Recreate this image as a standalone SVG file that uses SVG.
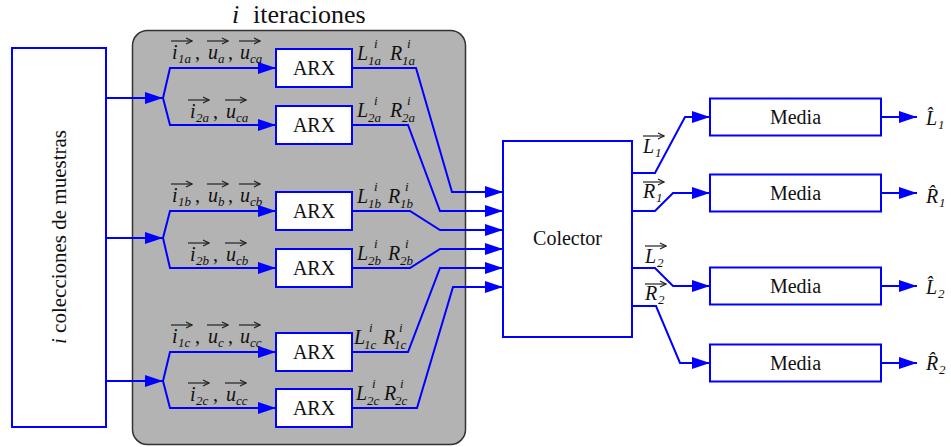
<svg xmlns="http://www.w3.org/2000/svg" width="951" height="447" viewBox="0 0 951 447">
  <style>
    .blk { fill: #fff; stroke: #0000ff; stroke-width: 2; }
    .wire { fill: none; stroke: #0000ff; stroke-width: 2; marker-end: url(#head); }
    .vec { stroke: #222; stroke-width: 1.2; marker-end: url(#vhead); }
    .t { font-family: "Liberation Serif", "Times New Roman", serif; font-size: 20px; fill: #111; }
    .c { text-anchor: middle; }
    .m { font-family: "Liberation Serif", "Times New Roman", serif; font-style: italic; font-size: 20px; fill: #111; }
    .s { font-family: "Liberation Serif", "Times New Roman", serif; font-style: italic; font-size: 13px; fill: #111; }
  </style>
  <defs>
    <marker id="head" markerUnits="userSpaceOnUse" markerWidth="18" markerHeight="12" refX="18" refY="6" orient="auto">
      <path d="M0,0 L18,6 L0,12 Z" fill="#0000ff"/>
    </marker>
    <marker id="vhead" markerUnits="userSpaceOnUse" markerWidth="8" markerHeight="8" refX="7" refY="4" orient="auto">
      <path d="M1,1 L7,4 L1,7" fill="none" stroke="#222" stroke-width="1.2"/>
    </marker>
  </defs>

  <!-- iteration frame -->
  <g id="iteraciones">
    <rect x="132.5" y="30.5" width="333" height="414" rx="15" fill="#b3b3b3" stroke="#333" stroke-width="1.5"/>
    <text class="m" x="232" y="23" style="font-size:26px">i</text>
    <text class="t" x="253" y="23" style="font-size:26px">iteraciones</text>
  </g>

  <!-- sample source -->
  <g id="muestras">
    <rect class="blk" x="12" y="48" width="94" height="379"/>
    <text class="t c" transform="translate(66,237) rotate(-90)" style="font-size:21px"><tspan font-style="italic">i</tspan> colecciones de muestras</text>
  </g>

  <!-- ARX blocks -->
  <g id="arx1a"><rect class="blk" x="276" y="49" width="76" height="38"/><text class="t c" x="314" y="75">ARX</text></g>
  <g id="arx2a"><rect class="blk" x="276" y="106" width="76" height="38"/><text class="t c" x="314" y="132">ARX</text></g>
  <g id="arx1b"><rect class="blk" x="276" y="192" width="76" height="38"/><text class="t c" x="314" y="218">ARX</text></g>
  <g id="arx2b"><rect class="blk" x="276" y="249" width="76" height="38"/><text class="t c" x="314" y="275">ARX</text></g>
  <g id="arx1c"><rect class="blk" x="276" y="333" width="76" height="38"/><text class="t c" x="314" y="359">ARX</text></g>
  <g id="arx2c"><rect class="blk" x="276" y="389" width="76" height="38"/><text class="t c" x="314" y="415">ARX</text></g>

  <!-- collector -->
  <g id="colector">
    <rect class="blk" x="503" y="141" width="129" height="196"/>
    <text class="t c" x="567.5" y="245">Colector</text>
  </g>

  <!-- averaging blocks -->
  <g id="media1"><rect class="blk" x="710" y="98.5" width="171" height="37"/><text class="t c" x="795.5" y="124">Media</text></g>
  <g id="media2"><rect class="blk" x="710" y="174.5" width="171" height="37"/><text class="t c" x="795.5" y="200">Media</text></g>
  <g id="media3"><rect class="blk" x="710" y="267.5" width="171" height="37"/><text class="t c" x="795.5" y="293">Media</text></g>
  <g id="media4"><rect class="blk" x="710" y="344.5" width="171" height="37"/><text class="t c" x="795.5" y="370">Media</text></g>

  <!-- connectors -->
  <g id="conectores">
    <path class="wire" d="M106,98 L163,98"/>
    <path class="wire" d="M106,238 L163,238"/>
    <path class="wire" d="M106,381 L163,381"/>

    <path class="wire" d="M163,98 L170,68 L276,68"/>
    <path class="wire" d="M163,98 L170,125 L276,125"/>
    <path class="wire" d="M163,238 L170,211 L276,211"/>
    <path class="wire" d="M163,238 L170,268 L276,268"/>
    <path class="wire" d="M163,381 L170,352 L276,352"/>
    <path class="wire" d="M163,381 L170,408 L276,408"/>

    <path class="wire" d="M352,68 L416,68 L452,192 L503,192"/>
    <path class="wire" d="M352,125 L408,125 L440,211 L503,211"/>
    <path class="wire" d="M352,211 L410,211 L440,230 L503,230"/>
    <path class="wire" d="M352,268 L410,268 L440,249 L503,249"/>
    <path class="wire" d="M352,352 L408,352 L440,268 L503,268"/>
    <path class="wire" d="M352,408 L417,408 L453,287 L503,287"/>

    <path class="wire" d="M632,173 L655,173 L685,117 L710,117"/>
    <path class="wire" d="M632,211 L655,211 L673,193 L710,193"/>
    <path class="wire" d="M632,268 L655,268 L673,286 L710,286"/>
    <path class="wire" d="M632,306 L656,306 L680,363 L710,363"/>

    <path class="wire" d="M881,117 L917,117"/>
    <path class="wire" d="M881,193 L917,193"/>
    <path class="wire" d="M881,286 L917,286"/>
    <path class="wire" d="M881,363 L917,363"/>
  </g>

  <!-- input labels -->
  <g id="entradas">
    <text class="m" x="172" y="59">i</text><text class="s" x="178" y="63">1a</text><text class="t" x="195" y="59">,</text>
    <text class="m" x="208" y="59">u</text><text class="s" x="218" y="63">a</text><text class="t" x="228" y="59">,</text>
    <text class="m" x="240" y="59">u</text><text class="s" x="250" y="63">ca</text>
    <line class="vec" x1="171" y1="41" x2="192" y2="41"/><line class="vec" x1="207" y1="41" x2="228" y2="41"/><line class="vec" x1="239" y1="41" x2="260" y2="41"/>

    <text class="m" x="190" y="118">i</text><text class="s" x="196" y="122">2a</text><text class="t" x="213" y="118">,</text>
    <text class="m" x="226" y="118">u</text><text class="s" x="236" y="122">ca</text>
    <line class="vec" x1="188" y1="100" x2="209" y2="100"/><line class="vec" x1="225" y1="100" x2="246" y2="100"/>

    <text class="m" x="172" y="202">i</text><text class="s" x="178" y="206">1b</text><text class="t" x="195" y="202">,</text>
    <text class="m" x="208" y="202">u</text><text class="s" x="218" y="206">b</text><text class="t" x="228" y="202">,</text>
    <text class="m" x="240" y="202">u</text><text class="s" x="250" y="206">cb</text>
    <line class="vec" x1="171" y1="184" x2="192" y2="184"/><line class="vec" x1="207" y1="184" x2="228" y2="184"/><line class="vec" x1="239" y1="184" x2="260" y2="184"/>

    <text class="m" x="190" y="261">i</text><text class="s" x="196" y="265">2b</text><text class="t" x="213" y="261">,</text>
    <text class="m" x="226" y="261">u</text><text class="s" x="236" y="265">cb</text>
    <line class="vec" x1="188" y1="243" x2="209" y2="243"/><line class="vec" x1="225" y1="243" x2="246" y2="243"/>

    <text class="m" x="172" y="343">i</text><text class="s" x="178" y="347">1c</text><text class="t" x="195" y="343">,</text>
    <text class="m" x="208" y="343">u</text><text class="s" x="218" y="347">c</text><text class="t" x="228" y="343">,</text>
    <text class="m" x="240" y="343">u</text><text class="s" x="250" y="347">cc</text>
    <line class="vec" x1="171" y1="325" x2="192" y2="325"/><line class="vec" x1="207" y1="325" x2="228" y2="325"/><line class="vec" x1="239" y1="325" x2="260" y2="325"/>

    <text class="m" x="190" y="401">i</text><text class="s" x="196" y="405">2c</text><text class="t" x="213" y="401">,</text>
    <text class="m" x="226" y="401">u</text><text class="s" x="236" y="405">cc</text>
    <line class="vec" x1="188" y1="383" x2="209" y2="383"/><line class="vec" x1="225" y1="383" x2="246" y2="383"/>
  </g>

  <!-- ARX output labels -->
  <g id="salidas-arx">
    <text class="m" x="357" y="60">L</text><text class="s" x="368" y="65">1a</text><text class="s" x="374" y="48">i</text>
    <text class="m" x="390" y="60">R</text><text class="s" x="402" y="65">1a</text><text class="s" x="407" y="48">i</text>

    <text class="m" x="357" y="117">L</text><text class="s" x="368" y="122">2a</text><text class="s" x="374" y="105">i</text>
    <text class="m" x="390" y="117">R</text><text class="s" x="402" y="122">2a</text><text class="s" x="407" y="105">i</text>

    <text class="m" x="357" y="203">L</text><text class="s" x="368" y="208">1b</text><text class="s" x="374" y="191">i</text>
    <text class="m" x="388" y="203">R</text><text class="s" x="400" y="208">1b</text><text class="s" x="405" y="191">i</text>

    <text class="m" x="357" y="260">L</text><text class="s" x="368" y="265">2b</text><text class="s" x="374" y="248">i</text>
    <text class="m" x="388" y="260">R</text><text class="s" x="400" y="265">2b</text><text class="s" x="405" y="248">i</text>

    <text class="m" x="354" y="344">L</text><text class="s" x="364" y="349">1c</text><text class="s" x="369" y="332">i</text>
    <text class="m" x="383" y="344">R</text><text class="s" x="394" y="349">1c</text><text class="s" x="399" y="332">i</text>

    <text class="m" x="356" y="400">L</text><text class="s" x="367" y="405">2c</text><text class="s" x="372" y="388">i</text>
    <text class="m" x="384" y="400">R</text><text class="s" x="395" y="405">2c</text><text class="s" x="400" y="388">i</text>
  </g>

  <!-- collector output labels -->
  <g id="salidas-colector">
    <text class="m" x="643" y="153">L</text><text class="s" x="655" y="157">1</text>
    <line class="vec" x1="643" y1="136" x2="664" y2="136"/>
    <text class="m" x="643" y="198">R</text><text class="s" x="656" y="202">1</text>
    <line class="vec" x1="643" y1="182" x2="664" y2="182"/>
    <text class="m" x="645" y="263">L</text><text class="s" x="657" y="267">2</text>
    <line class="vec" x1="645" y1="246" x2="666" y2="246"/>
    <text class="m" x="645" y="300">R</text><text class="s" x="658" y="304">2</text>
    <line class="vec" x1="645" y1="284" x2="666" y2="284"/>
  </g>

  <!-- averaged results, hat written as a combining circumflex -->
  <g id="estimados">
    <text class="m" x="926" y="125">L&#x302;</text><text class="s" x="938" y="129">1</text>
    <text class="m" x="926" y="203">R&#x302;</text><text class="s" x="939" y="207">1</text>
    <text class="m" x="926" y="294">L&#x302;</text><text class="s" x="938" y="298">2</text>
    <text class="m" x="926" y="370">R&#x302;</text><text class="s" x="939" y="374">2</text>
  </g>
</svg>
